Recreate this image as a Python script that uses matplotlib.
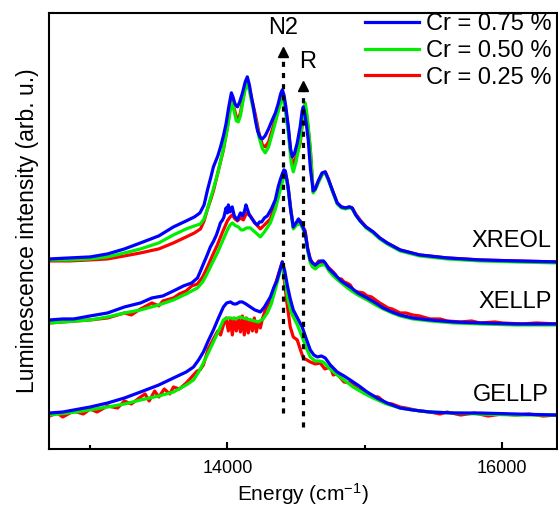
import matplotlib
matplotlib.use("Agg")
import matplotlib.pyplot as plt
from matplotlib.ticker import MultipleLocator

plt.rcParams['font.family'] = ['Liberation Sans', 'DejaVu Sans']
plt.rcParams['mathtext.fontset'] = 'custom'
plt.rcParams['mathtext.rm'] = 'Liberation Sans'
plt.rcParams['mathtext.it'] = 'Liberation Sans:italic'

# ---- XREOL (top group) ----
xreol_blue_e = [12705, 12850, 13000, 13127, 13250, 13367, 13500, 13607, 13700, 13760, 13800, 13830,
                13855, 13880, 13898, 13930, 13950, 13971, 13990, 14010, 14029, 14040, 14055, 14073,
                14090, 14110, 14130, 14145, 14160, 14175, 14189, 14205, 14220, 14240, 14255, 14275,
                14300, 14327, 14350, 14370, 14388, 14400, 14412, 14425, 14444, 14460, 14473, 14490,
                14509, 14530, 14545, 14553, 14565, 14575, 14589, 14605, 14625, 14640, 14662, 14690,
                14713, 14735, 14764, 14800, 14830, 14860, 14890, 14909, 14935, 14967, 15010, 15062,
                15110, 15164, 15258, 15400, 15600, 15840, 16100, 16400]
xreol_blue_v = [190, 191, 192, 195, 200, 206, 213, 222, 228, 232, 236, 244,
                259, 272, 282, 293, 302, 313, 325, 342, 356, 352, 345, 342,
                347, 356, 367, 372, 364, 352, 342, 328, 318, 311, 310, 313,
                320, 329, 336, 345, 355, 359, 354, 343, 322, 300, 292, 296,
                306, 322, 338, 342, 334, 325, 309, 280, 258, 260, 268, 276,
                277, 270, 259, 246, 242, 241, 242, 241, 234, 228, 222, 217,
                211, 206, 199, 194, 191, 189, 188, 187]

xreol_green_e = [12705, 12850, 13000, 13127, 13250, 13367, 13500, 13607, 13700, 13760, 13804, 13830,
                 13855, 13880, 13898, 13930, 13971, 14000, 14020, 14036, 14050, 14065, 14080, 14095,
                 14110, 14130, 14145, 14160, 14180, 14204, 14230, 14255, 14276, 14300, 14335, 14370,
                 14390, 14400, 14412, 14425, 14444, 14465, 14480, 14500, 14531, 14550, 14567, 14578,
                 14589, 14604, 14625, 14640, 14662, 14690, 14713, 14735, 14764, 14800, 14830, 14860,
                 14890, 14909, 14935, 14967, 15010, 15062, 15110, 15164, 15258, 15400, 15600, 15840,
                 16100, 16400]
xreol_green_v = [189, 189, 190, 192, 196, 200, 206, 214, 220, 223, 225, 230,
                 240, 252, 260, 276, 300, 320, 338, 346, 337, 328, 327, 333,
                 345, 360, 366, 358, 345, 330, 312, 300, 296, 302, 319, 337,
                 347, 351, 346, 336, 316, 286, 277, 287, 309, 332, 346, 336,
                 322, 300, 256, 259, 266, 274, 276, 269, 258, 245, 241, 240,
                 241, 240, 234, 228, 221, 216, 210, 205, 198, 193, 190, 188,
                 187, 186]

xreol_red_e = [12705, 12850, 13000, 13127, 13250, 13367, 13500, 13607, 13700, 13760, 13804, 13830,
               13855, 13880, 13898, 13930, 13971, 14000, 14020, 14036, 14050, 14065, 14080, 14095,
               14110, 14130, 14145, 14160, 14180, 14204, 14230, 14255, 14276, 14300, 14335, 14370,
               14390, 14400, 14412, 14425, 14444, 14465, 14480, 14500, 14531, 14550, 14567, 14578,
               14589, 14604, 14625, 14640, 14662, 14690, 14713, 14735, 14764, 14800, 14830, 14860,
               14890, 14909, 14935, 14967, 15010, 15062, 15110, 15164, 15258, 15400, 15600, 15840,
               16100, 16400]
xreol_red_v = [188, 188, 189, 190, 193, 196, 200, 206, 212, 216, 220, 228,
               240, 250, 258, 276, 299, 322, 341, 349, 340, 332, 330, 336,
               348, 362, 368, 361, 348, 334, 316, 304, 302, 307, 323, 340,
               350, 354, 349, 339, 320, 292, 284, 292, 306, 330, 342, 333,
               320, 300, 257, 260, 267, 275, 277, 270, 259, 246, 242, 241,
               242, 241, 235, 229, 222, 217, 211, 206, 199, 194, 191, 189,
               188, 187]

# ---- XELLP (middle group) ----
xellp_blue_e = [12705, 12800, 12880, 13000, 13127, 13250, 13367, 13450, 13530, 13607, 13680, 13740,
                13782, 13804, 13825, 13850, 13876, 13900, 13920, 13935, 13949, 13965, 13975, 13990,
                14000, 14007, 14020, 14035, 14050, 14073, 14095, 14110, 14125, 14135, 14145, 14160,
                14180, 14200, 14218, 14235, 14250, 14270, 14291, 14320, 14349, 14370, 14385, 14400,
                14412, 14422, 14435, 14444, 14460, 14480, 14500, 14518, 14531, 14550, 14567, 14585,
                14604, 14620, 14640, 14660, 14680, 14700, 14713, 14740, 14771, 14800, 14830, 14860,
                14895, 14950, 15018, 15080, 15135, 15200, 15258, 15350, 15476, 15650, 15840, 16100,
                16400]
xellp_blue_v = [129, 130, 130, 133, 136, 142, 146, 151, 153, 158, 163, 166,
                171, 178, 185, 193, 202, 208, 214, 220, 226, 229, 232, 241,
                236, 244, 237, 242, 233, 229, 236, 233, 238, 244, 240, 234,
                230, 226, 224, 227, 227, 231, 233, 240, 249, 262, 269, 275,
                279, 278, 268, 260, 240, 222, 226, 230, 227, 222, 216, 200,
                189, 186, 184, 186, 188, 188, 186, 180, 176, 172, 168, 165,
                162, 156, 151, 146, 141, 137, 134, 131, 129, 127, 126, 125,
                125]

xellp_green_e = [12705, 13000, 13127, 13250, 13367, 13500, 13607, 13700, 13782, 13820, 13855, 13890,
                 13927, 13965, 14000, 14020, 14036, 14060, 14080, 14100, 14116, 14140, 14167, 14200,
                 14240, 14270, 14313, 14350, 14385, 14410, 14422, 14435, 14444, 14462, 14480, 14505,
                 14531, 14550, 14567, 14585, 14604, 14620, 14640, 14665, 14690, 14713, 14740, 14771,
                 14830, 14895, 14950, 15018, 15080, 15135, 15200, 15258, 15350, 15476, 15650, 15840,
                 16100, 16400]
xellp_green_v = [126, 129, 132, 136, 139, 144, 149, 155, 161, 167, 176, 186,
                 196, 208, 219, 224, 226, 223, 222, 219, 219, 221, 221, 217,
                 212, 217, 226, 240, 259, 272, 274, 266, 258, 238, 220, 224,
                 225, 220, 214, 198, 186, 182, 180, 183, 184, 184, 178, 173,
                 166, 159, 154, 149, 144, 140, 136, 133, 130, 128, 126, 125,
                 124, 124]

xellp_red_e = [12705, 12800, 12900, 13000, 13127, 13250, 13300, 13367, 13450, 13500, 13530, 13607,
               13650, 13700, 13740, 13782, 13820, 13855, 13890, 13927, 13965, 14000, 14020, 14036,
               14055, 14073, 14095, 14116, 14140, 14167, 14200, 14240, 14270, 14313, 14350, 14385,
               14410, 14422, 14435, 14444, 14462, 14480, 14505, 14531, 14550, 14567, 14585, 14604,
               14620, 14640, 14665, 14690, 14713, 14740, 14771, 14790, 14800, 14830, 14850, 14870,
               14895, 14920, 14950, 14990, 15018, 15050, 15080, 15110, 15135, 15170, 15200, 15230,
               15258, 15300, 15350, 15400, 15476, 15550, 15600, 15700, 15780, 15840, 15950, 16000,
               16150, 16250, 16400]
xellp_red_v = [126, 127, 128, 129, 131, 136, 134, 140, 146, 143, 148, 151,
               155, 158, 163, 165, 172, 182, 193, 204, 217, 228, 232, 234,
               230, 228, 231, 229, 236, 233, 226, 220, 224, 230, 246, 264,
               275, 276, 268, 260, 240, 222, 226, 228, 222, 218, 200, 190,
               186, 183, 188, 186, 185, 181, 177, 174, 170, 170, 167, 166,
               164, 158, 157, 156, 153, 152, 149, 146, 144, 141, 140, 138,
               136, 136, 134, 133, 130, 130, 128, 127, 128, 126, 127, 126,
               125, 126, 125]

# ---- GELLP (bottom group) ----
gellp_blue_e = [12705, 12800, 12880, 13000, 13127, 13250, 13367, 13500, 13607, 13700, 13753, 13790,
                13825, 13860, 13898, 13935, 13971, 13995, 14022, 14045, 14065, 14090, 14109, 14135,
                14167, 14200, 14240, 14270, 14313, 14340, 14360, 14385, 14400, 14418, 14436, 14458,
                14480, 14510, 14545, 14575, 14604, 14630, 14655, 14685, 14713, 14750, 14800, 14850,
                14895, 14960, 15018, 15090, 15164, 15258, 15350, 15476, 15650, 15840, 16100, 16400]
gellp_blue_v = [36, 37, 39, 42, 46, 51, 57, 64, 71, 77, 82, 89,
                97, 108, 119, 131, 142, 146, 147, 145, 145, 147, 147, 145,
                142, 139, 137, 142, 152, 162, 168, 180, 187, 178, 164, 150,
                139, 131, 122, 110, 99, 94, 92, 93, 91, 84, 77, 73,
                69, 63, 57, 51, 46, 41, 39, 37, 36, 36, 35, 34]

gellp_green_e = [12705, 12900, 13127, 13250, 13367, 13500, 13607, 13700, 13753, 13790, 13825, 13860,
                 13898, 13935, 13971, 14000, 14022, 14060, 14090, 14116, 14170, 14225, 14260, 14291,
                 14320, 14350, 14375, 14400, 14420, 14440, 14458, 14473, 14510, 14545, 14575, 14604,
                 14640, 14670, 14698, 14740, 14800, 14850, 14916, 14990, 15062, 15160, 15258, 15350,
                 15476, 15650, 15840, 16100, 16400]
gellp_green_v = [34, 37, 42, 45, 49, 53, 57, 64, 69, 77, 86, 96,
                 107, 118, 129, 131, 131, 130, 132, 131, 129, 127, 130, 136,
                 145, 160, 173, 186, 168, 150, 140, 134, 124, 112, 101, 92,
                 88, 88, 87, 81, 74, 69, 62, 56, 51, 45, 41, 39,
                 37, 36, 35, 34, 34]

gellp_red_e = [12705, 12760, 12800, 12880, 12950, 13000, 13050, 13127, 13200, 13250, 13300, 13367,
               13400, 13430, 13470, 13500, 13540, 13580, 13607, 13650, 13700, 13740, 13780, 13800,
               13825, 13860, 13898, 13930, 13950, 13971, 13990, 14007, 14022, 14036, 14050, 14065,
               14080, 14095, 14109, 14123, 14138, 14152, 14167, 14182, 14196, 14211, 14225, 14240,
               14255, 14276, 14313, 14350, 14400, 14430, 14458, 14480, 14509, 14530, 14553, 14580,
               14604, 14640, 14676, 14710, 14750, 14771, 14800, 14850, 14895, 14950, 15000, 15050,
               15100, 15150, 15200, 15258, 15300, 15400, 15476, 15550, 15600, 15700, 15800, 15900,
               16000, 16100, 16200, 16300, 16400]
gellp_red_v = [33, 36, 32, 38, 35, 40, 37, 43, 41, 48, 45, 52,
               55, 48, 58, 52, 60, 55, 62, 60, 66, 72, 78, 79,
               84, 100, 110, 118, 114, 124, 131, 118, 130, 114, 131, 118,
               130, 117, 133, 114, 131, 116, 129, 118, 131, 117, 127, 121,
               130, 139, 149, 165, 187, 150, 122, 112, 109, 100, 91, 89,
               87, 85, 86, 80, 82, 74, 75, 67, 66, 60, 57, 53,
               52, 46, 45, 42, 41, 38, 37, 35, 37, 34, 36, 33,
               35, 34, 35, 33, 34]

# marker lines (N2 and R)
n2_e, n2_range = 14407, (36, 397)
r_e, r_range = 14552, (22, 363)

blue, green, red = '#0000FF', '#00EE00', '#FF0000'

fig = plt.figure(figsize=(5.58, 5.12), dpi=100)
ax = fig.add_axes([0.0878, 0.123, 0.910, 0.852])

groups = [
    (xreol_red_e, xreol_red_v, xreol_green_e, xreol_green_v, xreol_blue_e, xreol_blue_v),
    (xellp_red_e, xellp_red_v, xellp_green_e, xellp_green_v, xellp_blue_e, xellp_blue_v),
    (gellp_red_e, gellp_red_v, gellp_green_e, gellp_green_v, gellp_blue_e, gellp_blue_v),
]
for i, (re, rv, ge, gv, be, bv) in enumerate(groups):
    ax.plot(re, rv, color=red, lw=2.3, label='Cr = 0.25 %' if i == 0 else None)
    ax.plot(ge, gv, color=green, lw=2.3, label='Cr = 0.50 %' if i == 0 else None)
    ax.plot(be, bv, color=blue, lw=2.3, label='Cr = 0.75 %' if i == 0 else None)

# dotted guide lines with arrow heads
for e, (lo, hi) in [(n2_e, n2_range), (r_e, r_range)]:
    ax.plot([e, e], [lo, hi - 4], color='black', lw=2.3, ls=(0, (1.6, 1.9)))
    ax.plot(e, hi, marker='^', color='black', ms=7)

ax.text(n2_e, 421, 'N2', fontsize=17, ha='center', va='center')
ax.text(14582, 387, 'R', fontsize=17, ha='center', va='center')

ax.text(0.99, 0.477, 'XREOL', transform=ax.transAxes, fontsize=17, ha='right', va='center')
ax.text(0.99, 0.337, 'XELLP', transform=ax.transAxes, fontsize=17, ha='right', va='center')
ax.text(0.985, 0.124, 'GELLP', transform=ax.transAxes, fontsize=17, ha='right', va='center')

handles, labels = ax.get_legend_handles_labels()
order = [2, 1, 0]
ax.legend([handles[k] for k in order], [labels[k] for k in order],
          loc='upper right', bbox_to_anchor=(1.0, 1.01), frameon=False,
          fontsize=17, handlelength=2.3, handletextpad=0.3, labelspacing=0.2,
          borderaxespad=0.0, borderpad=0.2)

ax.set_xlim(12700, 16400)
ax.set_ylim(0, 436)
ax.xaxis.set_major_locator(MultipleLocator(2000))
ax.xaxis.set_minor_locator(MultipleLocator(1000))
ax.tick_params(axis='x', which='major', direction='in', length=5, width=1.5, labelsize=13, pad=8)
ax.tick_params(axis='x', which='minor', direction='in', length=3, width=1.5)
ax.set_yticks([])
for s in ax.spines.values():
    s.set_linewidth(1.5)

ax.set_xlabel('Energy (cm$^{-1}$)', fontsize=15, labelpad=3)
ax.set_ylabel('Luminescence intensity (arb. u.)', fontsize=16.5, labelpad=7)

fig.savefig('out.png', dpi=100)
